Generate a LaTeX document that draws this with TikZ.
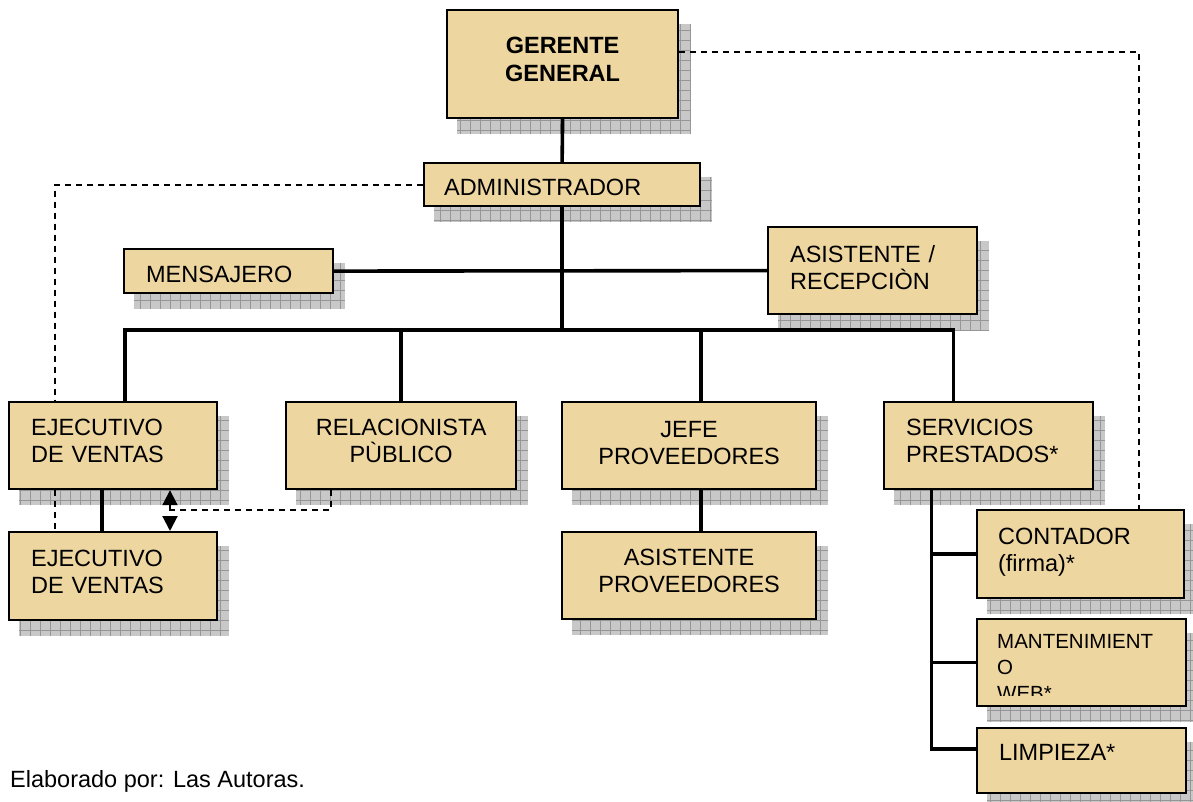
\documentclass[tikz,border=0pt]{standalone}
\usepackage{fontspec}
\setmainfont{Liberation Sans}
\usetikzlibrary{arrows.meta,backgrounds}
\definecolor{papiro}{RGB}{238,214,160}
\definecolor{sombra}{RGB}{200,200,200}
\definecolor{rejilla}{RGB}{150,150,150}
\tikzset{
  cargo/.style={draw, line width=2.2pt, fill=papiro, anchor=north west, inner xsep=22pt, inner ysep=0pt,
    align=left, font=\fontsize{23.5}{27}\selectfont},
  dos/.style={text depth=36pt},
  linea/.style={line width=3.6pt},
  punteada/.style={line width=2pt, dash pattern=on 6pt off 5pt}
}
\begin{document}
\begin{tikzpicture}[x=1pt,y=-1pt]
\useasboundingbox (0,0) rectangle (1193,802);

\node (gg)[cargo, align=center, font=\bfseries\fontsize{23.5}{28}\selectfont, minimum width=231pt, minimum height=108pt, text width=187pt, text depth=37pt] at (446,9) {GERENTE\\GENERAL};
\node (adm)[cargo, inner xsep=20pt, minimum width=276pt, minimum height=43pt, text width=236pt, text height=23pt] at (423,162) {ADMINISTRADOR};
\node (men)[cargo, minimum width=209pt, minimum height=44pt, text width=165pt, text height=24pt] at (123,248) {MENSAJERO};
\node (rec)[cargo, minimum width=209pt, minimum height=87pt, text width=165pt, text depth=33pt] at (767,226) {ASISTENTE /\\RECEPCIÒN};

\node (ev1)[cargo, dos, minimum width=208pt, minimum height=87pt, text width=164pt] at (8,401) {EJECUTIVO\\DE VENTAS};
\node (rp)[cargo, dos, align=center, minimum width=230pt, minimum height=87pt, text width=186pt] at (285,401) {RELACIONISTA\\PÙBLICO};
\node (jp)[cargo, align=center, minimum width=254pt, minimum height=87pt, text width=210pt, text depth=33pt] at (561,401) {JEFE\\PROVEEDORES};
\node (sp)[cargo, dos, minimum width=209pt, minimum height=87pt, text width=165pt] at (883,401) {SERVICIOS\\PRESTADOS*};

\node (ev2)[cargo, dos, minimum width=208pt, minimum height=88pt, text width=164pt] at (8,531) {EJECUTIVO\\DE VENTAS};
\node (ap)[cargo, dos, align=center, minimum width=254pt, minimum height=87pt, text width=210pt] at (561,531) {ASISTENTE\\PROVEEDORES};

\node (cont)[cargo, inner xsep=21pt, minimum width=207pt, minimum height=88pt, text width=165pt, text depth=35pt] at (976,509) {CONTADOR\\(firma)*};
\node (mant)[cargo, minimum width=209pt, minimum height=87pt] at (976,618) {};
\begin{scope}
\clip (mant.north west) rectangle ([yshift=12pt]mant.south east);
\node (manttxt)[anchor=north west, inner sep=0pt, align=left, font=\fontsize{20.5}{26}\selectfont] at ([xshift=21pt,yshift=-16pt]mant.north west) {MANTENIMIENT\\O\\WEB*};
\end{scope}
\node (limp)[cargo, minimum width=209pt, minimum height=65pt, text width=165pt, text depth=16pt] at (976,727) {LIMPIEZA*};

\node (nota)[anchor=base west, inner sep=0pt, font=\fontsize{23.5}{27}\selectfont] at (10,787) {Elaborado por: Las Autoras.};

% sombras
\begin{scope}[on background layer]
\foreach \n in {gg,adm,men,rec,ev1,rp,jp,sp,ev2,ap,cont,mant,limp}{
  \fill[sombra] ([xshift=11pt,yshift=-15pt]\n.north west) rectangle ([xshift=11pt,yshift=-15pt]\n.south east);
  \draw[rejilla, line width=.6pt, step=10pt] ([xshift=11pt,yshift=-15pt]\n.north west) grid ([xshift=11pt,yshift=-15pt]\n.south east);
}
\end{scope}

% draw the connections
\coordinate (bus) at ([yshift=71pt]adm.south |- rp.north);
\coordinate (sv) at ([xshift=-57pt]sp.south);
\draw[linea] (gg.south) -- (adm.north);
\draw[linea] (adm.south) -- (bus);
\draw[linea] (men.east) -- (rec.west);
\draw[linea] ([xshift=12pt]ev1.north) |- (bus);
\draw[linea] ([xshift=-35pt]sp.north) |- (bus);
\draw[linea] (rp.north) |- (bus);
\draw[linea] ([xshift=12pt]jp.north) |- (bus);
\draw[linea] ([xshift=-11pt]ev1.south) -- ([xshift=-11pt]ev2.north);
\draw[linea] ([xshift=12pt]jp.south) -- ([xshift=12pt]ap.north);
\draw[linea] (sv) |- ([yshift=11.5pt]limp.west);
\draw[linea] (cont.west) -- (cont.west -| sv);
\draw[linea] (mant.west) -- (mant.west -| sv);

\draw[punteada] (adm.west) -| ([xshift=47pt]ev1.north west);
\draw[punteada] ([xshift=47pt]ev1.south west) -- ([xshift=47pt]ev2.north west);
\draw[punteada] ([yshift=12pt]gg.east) -| ([xshift=-46pt]cont.north east);
\coordinate (cruce) at ([xshift=162pt,yshift=-20pt]ev1.south west);
\draw[punteada] ([xshift=46pt]rp.south west) |- (cruce);
\draw[punteada, {Triangle[width=15pt,length=15pt]}-{Triangle[width=15pt,length=15pt]}] ([xshift=162pt]ev1.south west) -- ([xshift=162pt]ev2.north west);
\end{tikzpicture}
\end{document}
